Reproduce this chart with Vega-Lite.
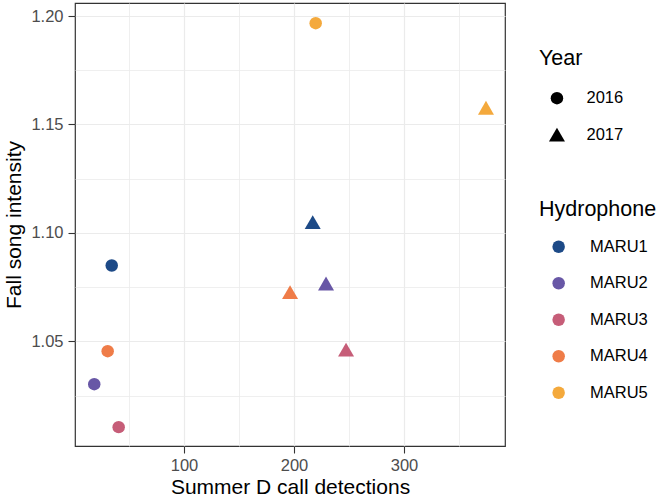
{
  "$schema": "https://vega.github.io/schema/vega-lite/v6.json",
  "width": 430,
  "height": 443,
  "autosize": {"type": "none"},
  "padding": {"left": 75, "top": 3, "right": 160, "bottom": 53},
  "background": "white",
  "data": {
    "values": [
      {"Hydrophone": "MARU1", "Year": "2016", "detections": 34.3, "intensity": 1.085},
      {"Hydrophone": "MARU2", "Year": "2016", "detections": 18.4, "intensity": 1.0303},
      {"Hydrophone": "MARU3", "Year": "2016", "detections": 40.6, "intensity": 1.0105},
      {"Hydrophone": "MARU4", "Year": "2016", "detections": 30.6, "intensity": 1.0455},
      {"Hydrophone": "MARU5", "Year": "2016", "detections": 219.7, "intensity": 1.1967},
      {"Hydrophone": "MARU1", "Year": "2017", "detections": 217.0, "intensity": 1.105},
      {"Hydrophone": "MARU2", "Year": "2017", "detections": 229.1, "intensity": 1.0767},
      {"Hydrophone": "MARU3", "Year": "2017", "detections": 247.3, "intensity": 1.0462},
      {"Hydrophone": "MARU4", "Year": "2017", "detections": 196.4, "intensity": 1.0727},
      {"Hydrophone": "MARU5", "Year": "2017", "detections": 374.5, "intensity": 1.1577}
    ]
  },
  "mark": {"type": "point", "filled": true, "opacity": 1, "strokeWidth": 0},
  "encoding": {
    "x": {
      "field": "detections", "type": "quantitative",
      "scale": {"domain": [0.9, 391.8], "nice": false, "zero": false},
      "axis": {
        "title": "Summer D call detections",
        "values": [50, 100, 150, 200, 250, 300, 350],
        "labelExpr": "datum.value % 100 === 0 ? datum.label : ''",
        "tickOpacity": {"condition": {"test": "datum.value % 100 !== 0", "value": 0}, "value": 1},
        "gridWidth": {"condition": {"test": "datum.value % 100 !== 0", "value": 0.8}, "value": 1.2},
        "titlePadding": 3,
        "labelPadding": 4
      }
    },
    "y": {
      "field": "intensity", "type": "quantitative",
      "scale": {"domain": [1.0018, 1.206], "nice": false, "zero": false},
      "axis": {
        "title": "Fall song intensity",
        "values": [1.025, 1.05, 1.075, 1.1, 1.125, 1.15, 1.175, 1.2],
        "format": ".2f",
        "labelExpr": "round(datum.value * 1000) % 50 === 0 ? datum.label : ''",
        "tickOpacity": {"condition": {"test": "round(datum.value * 1000) % 50 !== 0", "value": 0}, "value": 1},
        "gridWidth": {"condition": {"test": "round(datum.value * 1000) % 50 !== 0", "value": 0.8}, "value": 1.2},
        "titlePadding": 6,
        "labelPadding": 5
      }
    },
    "color": {
      "field": "Hydrophone", "type": "nominal",
      "scale": {
        "domain": ["MARU1", "MARU2", "MARU3", "MARU4", "MARU5"],
        "range": ["#1d4a87", "#6857a6", "#c65d78", "#ef7c48", "#f4a93c"]
      },
      "legend": {
        "orient": "none", "legendX": 464, "legendY": 196,
        "symbolType": "circle", "symbolSize": 156,
        "symbolOffset": 11.4, "labelOffset": 23.1,
        "titlePadding": 18, "rowPadding": 19.5
      }
    },
    "shape": {
      "field": "Year", "type": "nominal",
      "scale": {"domain": ["2016", "2017"], "range": ["circle", "triangle-up"]},
      "legend": {
        "orient": "none", "legendX": 464, "legendY": 45.4,
        "symbolOffset": 9.7, "labelOffset": 21.3,
        "symbolFillColor": "black", "symbolStrokeColor": "black", "symbolStrokeWidth": 0,
        "titlePadding": 20, "rowPadding": 19.5
      }
    },
    "size": {
      "field": "Year", "type": "nominal",
      "scale": {"domain": ["2016", "2017"], "range": [156, 256]},
      "legend": {
        "orient": "none", "legendX": 464, "legendY": 45.4,
        "symbolOffset": 9.7, "labelOffset": 21.3,
        "symbolFillColor": "black", "symbolStrokeColor": "black", "symbolStrokeWidth": 0,
        "titlePadding": 20, "rowPadding": 19.5
      }
    }
  },
  "config": {
    "font": "Liberation Sans",
    "view": {"stroke": "#333333", "strokeWidth": 1.2},
    "axis": {
      "domain": false,
      "grid": true,
      "gridColor": "#ebebeb",
      "tickColor": "#333333",
      "tickSize": 7,
      "tickWidth": 1.1,
      "labelFont": "Liberation Sans",
      "labelFontSize": 16.5,
      "labelColor": "#4d4d4d",
      "labelOverlap": false,
      "labelFlush": false,
      "titleFont": "Liberation Sans",
      "titleFontSize": 21,
      "titleFontWeight": "normal",
      "titleColor": "black"
    },
    "legend": {
      "padding": 0,
      "titleFont": "Liberation Sans",
      "titleFontSize": 21.5,
      "titleFontWeight": "normal",
      "titleColor": "black",
      "labelFont": "Liberation Sans",
      "labelFontSize": 16.5,
      "labelColor": "black",
      "symbolOpacity": 1
    }
  }
}
